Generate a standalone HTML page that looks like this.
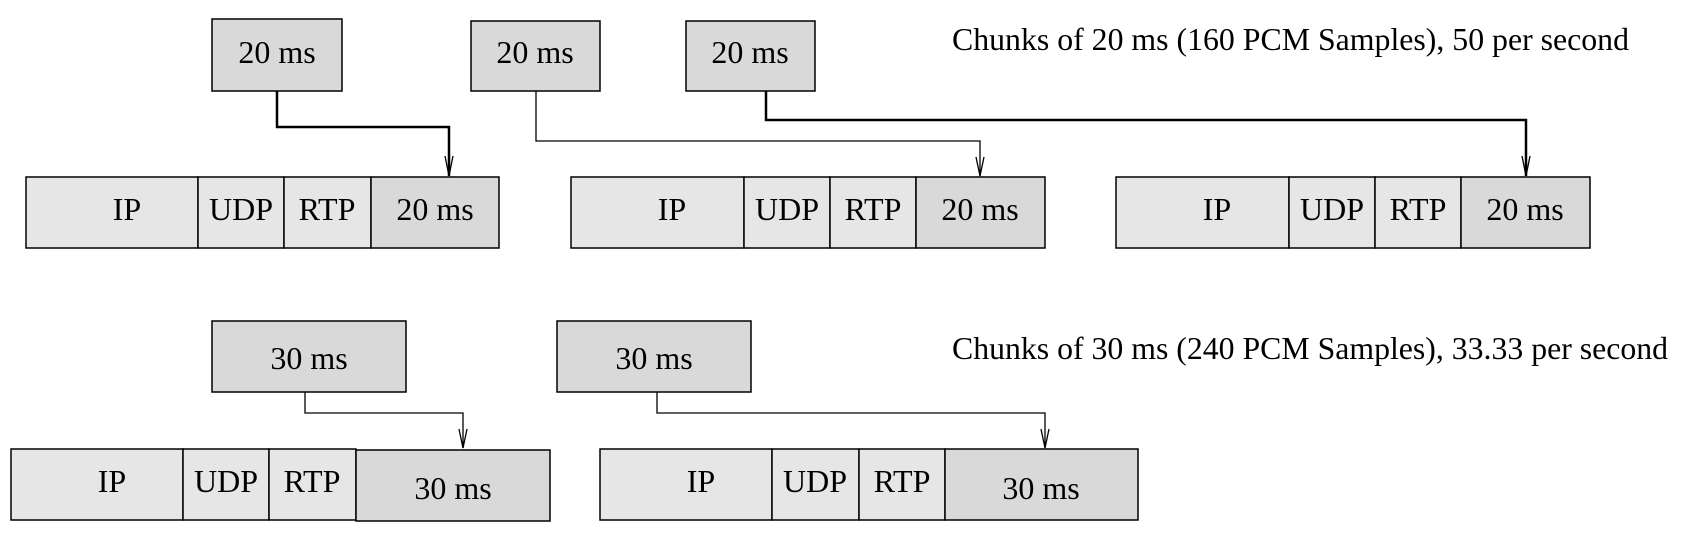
<!DOCTYPE html>
<html><head><meta charset="utf-8"><style>
html,body{margin:0;padding:0;background:#fff;}
svg{display:block;}
text{font-family:"Liberation Serif","Times New Roman",serif;font-size:32px;fill:#000;}
</style></head><body>
<svg width="1690" height="539" viewBox="0 0 1690 539" xmlns="http://www.w3.org/2000/svg">
<g stroke="#000" stroke-width="1.5">
<rect x="212" y="19" width="130" height="72" fill="#d9d9d9"/>
<rect x="471" y="21" width="129" height="70" fill="#d9d9d9"/>
<rect x="686" y="21" width="129" height="70" fill="#d9d9d9"/>
<rect x="26" y="177" width="172" height="71" fill="#e6e6e6"/>
<rect x="198" y="177" width="86" height="71" fill="#e6e6e6"/>
<rect x="284" y="177" width="87" height="71" fill="#e6e6e6"/>
<rect x="371" y="177" width="128" height="71" fill="#d9d9d9"/>
<rect x="571" y="177" width="173" height="71" fill="#e6e6e6"/>
<rect x="744" y="177" width="86" height="71" fill="#e6e6e6"/>
<rect x="830" y="177" width="86" height="71" fill="#e6e6e6"/>
<rect x="916" y="177" width="129" height="71" fill="#d9d9d9"/>
<rect x="1116" y="177" width="173" height="71" fill="#e6e6e6"/>
<rect x="1289" y="177" width="86" height="71" fill="#e6e6e6"/>
<rect x="1375" y="177" width="86" height="71" fill="#e6e6e6"/>
<rect x="1461" y="177" width="129" height="71" fill="#d9d9d9"/>
<rect x="212" y="321" width="194" height="71" fill="#d9d9d9"/>
<rect x="557" y="321" width="194" height="71" fill="#d9d9d9"/>
<rect x="11" y="449" width="172" height="71" fill="#e6e6e6"/>
<rect x="183" y="449" width="86" height="71" fill="#e6e6e6"/>
<rect x="269" y="449" width="87" height="71" fill="#e6e6e6"/>
<rect x="356" y="450" width="194" height="71" fill="#d9d9d9"/>
<rect x="600" y="449" width="172" height="71" fill="#e6e6e6"/>
<rect x="772" y="449" width="87" height="71" fill="#e6e6e6"/>
<rect x="859" y="449" width="86" height="71" fill="#e6e6e6"/>
<rect x="945" y="449" width="193" height="71" fill="#d9d9d9"/>
</g>
<g fill="none" stroke="#000">
<polyline points="277,91 277,127 449,127 449,176" stroke-width="2.5"/>
<polyline points="536,91 536,141 980,141 980,176" stroke-width="1.3"/>
<polyline points="766,91 766,120 1526,120 1526,176" stroke-width="2.5"/>
<polyline points="305,392 305,413 463,413 463,448" stroke-width="1.3"/>
<polyline points="657,392 657,413 1045,413 1045,448" stroke-width="1.3"/>
<g stroke-width="1.3">
<polyline points="445,156 449,176 453,156"/>
<polyline points="976,157 980,176 984,157"/>
<polyline points="1522,156 1526,176 1530,156"/>
<polyline points="459,429 463,448 467,429"/>
<polyline points="1041,429 1045,448 1049,429"/>
</g>
</g>
<g text-anchor="middle">
<text x="277" y="63">20 ms</text>
<text x="535" y="63">20 ms</text>
<text x="750" y="63">20 ms</text>
<text x="127" y="220">IP</text><text x="241" y="220">UDP</text><text x="327" y="220">RTP</text><text x="435" y="220">20 ms</text>
<text x="672" y="220">IP</text><text x="787" y="220">UDP</text><text x="873" y="220">RTP</text><text x="980" y="220">20 ms</text>
<text x="1217" y="220">IP</text><text x="1332" y="220">UDP</text><text x="1418" y="220">RTP</text><text x="1525" y="220">20 ms</text>
<text x="309" y="369">30 ms</text>
<text x="654" y="369">30 ms</text>
<text x="112" y="492">IP</text><text x="226" y="492">UDP</text><text x="312" y="492">RTP</text><text x="453" y="499">30 ms</text>
<text x="701" y="492">IP</text><text x="815" y="492">UDP</text><text x="902" y="492">RTP</text><text x="1041" y="499">30 ms</text>
</g>
<text x="952" y="50" textLength="677" lengthAdjust="spacingAndGlyphs">Chunks of 20 ms (160 PCM Samples), 50 per second</text>
<text x="952" y="359" textLength="716" lengthAdjust="spacingAndGlyphs">Chunks of 30 ms (240 PCM Samples), 33.33 per second</text>
</svg>
</body></html>
